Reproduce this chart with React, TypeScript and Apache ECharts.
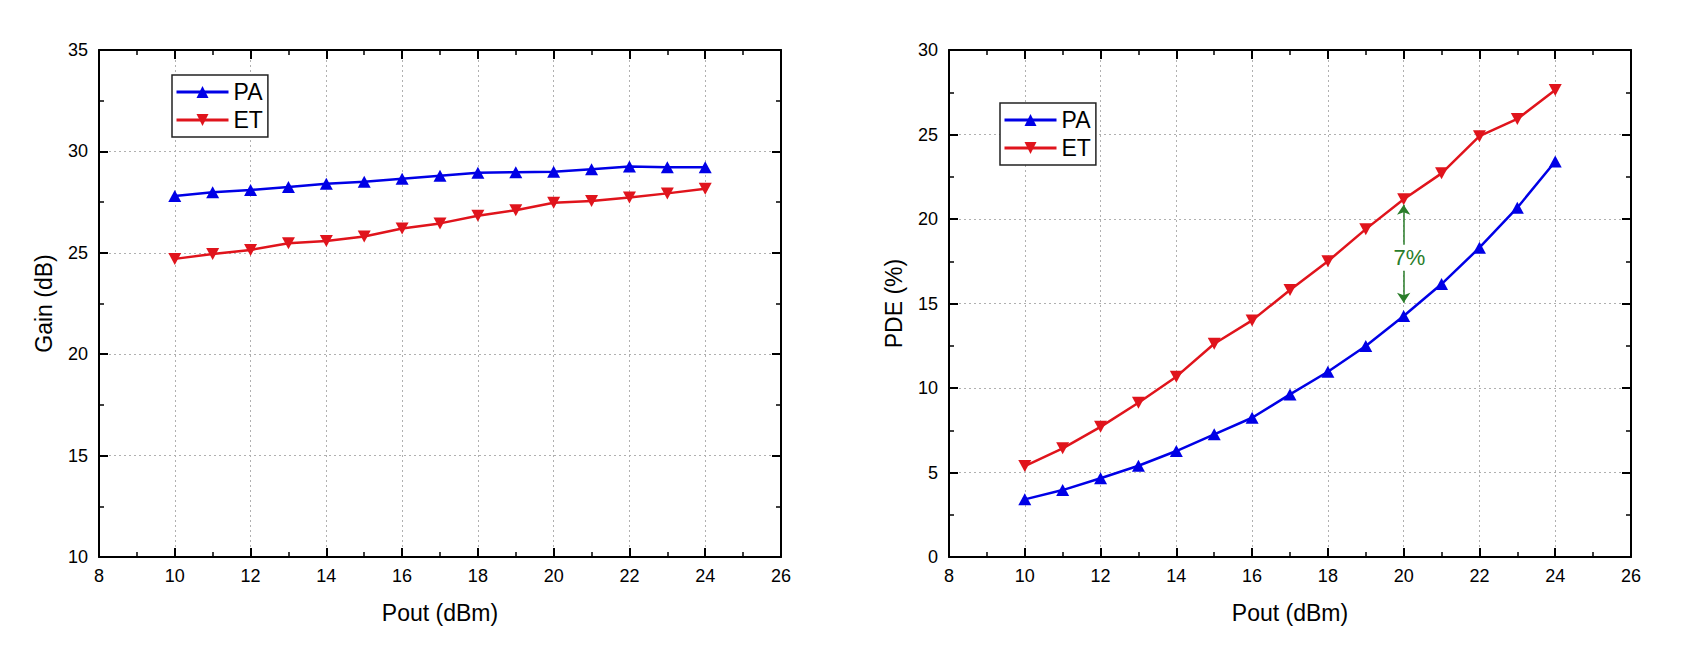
import React, { useEffect, useRef } from "react";
import * as echarts from "echarts";

const POUT = [10, 11, 12, 13, 14, 15, 16, 17, 18, 19, 20, 21, 22, 23, 24];
const GAIN_PA = [27.8, 27.98, 28.1, 28.25, 28.4, 28.5, 28.65, 28.8, 28.95, 28.97, 29.0, 29.12, 29.25, 29.22, 29.22];
const GAIN_ET = [24.7, 24.94, 25.14, 25.47, 25.58, 25.8, 26.2, 26.45, 26.83, 27.1, 27.47, 27.55, 27.73, 27.93, 28.16];
const PDE_PA = [3.41, 3.96, 4.66, 5.4, 6.27, 7.26, 8.24, 9.62, 10.96, 12.49, 14.26, 16.15, 18.3, 20.67, 23.4];
const PDE_ET = [5.38, 6.43, 7.7, 9.13, 10.67, 12.62, 14.0, 15.8, 17.5, 19.4, 21.17, 22.7, 24.9, 25.92, 27.63];

const SERIES_NAMES = ["PA", "ET"];
const X_NAME = "Pout (dBm)";
const GAIN_NAME = "Gain (dB)";
const PDE_NAME = "PDE (%)";

// annotation: arrow between ET and PA at Pout = 20 dBm
const ANNOT_X = 20;
const ANNOT_TOP = 20.85;
const ANNOT_BOTTOM = 15.05;
const ANNOT_TEXT_X = 20.15;
const ANNOT_TEXT_Y = 17.7;
const ANNOT_LABEL = "7%";

const BLUE = "#0000e6";
const RED = "#e0141c";
const GREEN = "#2a7d2a";
const FONT = "'Liberation Sans', Arial, sans-serif";

const zip = (xs: number[], ys: number[]) => xs.map((x, i) => [x, ys[i]]);

function xAxes(gridIndex: number) {
  const common = {
    gridIndex,
    type: "value",
    min: 8,
    max: 26,
    interval: 2,
    axisLine: { show: true, onZero: false, lineStyle: { color: "#000", width: 2 } },
    axisTick: { show: true, inside: true, length: 9, lineStyle: { color: "#000", width: 2 } },
    minorTick: { show: true, splitNumber: 2, length: 5, lineStyle: { color: "#000", width: 1.5 } },
  };
  return [
    {
      ...common,
      position: "bottom",
      name: X_NAME,
      nameLocation: "middle",
      nameGap: 44,
      nameTextStyle: { fontSize: 23, color: "#000", fontFamily: FONT },
      axisLabel: { show: true, margin: 10, fontSize: 18, color: "#000", fontFamily: FONT },
      splitLine: { show: true, lineStyle: { type: [2, 3], color: "#b0b0b0", width: 1 } },
    },
    {
      ...common,
      position: "top",
      axisLabel: { show: false },
      splitLine: { show: false },
    },
  ];
}

function yAxes(gridIndex: number, min: number, max: number, name: string) {
  const common = {
    gridIndex,
    type: "value",
    min,
    max,
    interval: 5,
    axisLine: { show: true, onZero: false, lineStyle: { color: "#000", width: 2 } },
    axisTick: { show: true, inside: true, length: 9, lineStyle: { color: "#000", width: 2 } },
    minorTick: { show: true, splitNumber: 2, length: 5, lineStyle: { color: "#000", width: 1.5 } },
  };
  return [
    {
      ...common,
      position: "left",
      name,
      nameLocation: "middle",
      nameGap: 44,
      nameTextStyle: { fontSize: 23, color: "#000", fontFamily: FONT },
      axisLabel: { show: true, margin: 11, fontSize: 18, color: "#000", fontFamily: FONT },
      splitLine: { show: true, lineStyle: { type: [2, 3], color: "#b0b0b0", width: 1 } },
    },
    {
      ...common,
      position: "right",
      axisLabel: { show: false },
      splitLine: { show: false },
    },
  ];
}

function lineSeries(name: string, data: number[][], axisIndex: number, color: string, down: boolean) {
  return {
    type: "line",
    name,
    data,
    xAxisIndex: axisIndex,
    yAxisIndex: axisIndex,
    symbol: "triangle",
    symbolSize: [13, 12],
    symbolRotate: down ? 180 : 0,
    showAllSymbol: true,
    lineStyle: { color, width: 2.5 },
    itemStyle: { color },
    z: 3,
  };
}

function legend(left: number, top: number) {
  return {
    data: SERIES_NAMES,
    orient: "vertical",
    left,
    top,
    itemWidth: 52,
    itemHeight: 15,
    itemGap: 4,
    padding: [5, 5, 5, 3],
    borderColor: "#222",
    borderWidth: 1.5,
    backgroundColor: "#fff",
    selectedMode: false,
    lineStyle: { width: 3 },
    textStyle: { fontSize: 23, lineHeight: 24, color: "#000", fontFamily: FONT, padding: [0, 0, 0, 0] },
  };
}

export default function App() {
  const ref = useRef<HTMLDivElement>(null);

  useEffect(() => {
    document.body.style.margin = "0";
    if (!ref.current) return;
    const chart = echarts.init(ref.current, undefined, { renderer: "svg" });
    const gX = xAxes(0);
    const gY = yAxes(0, 10, 35, GAIN_NAME);
    const pX = xAxes(1);
    const pY = yAxes(1, 0, 30, PDE_NAME);

    const etPde: any = lineSeries("ET", zip(POUT, PDE_ET), 2, RED, true);
    etPde.markLine = {
      silent: true,
      symbol: ["arrow", "arrow"],
      symbolSize: 10,
      label: { show: false },
      lineStyle: { color: GREEN, width: 1.5, type: "solid" },
      data: [[{ coord: [ANNOT_X, ANNOT_TOP] }, { coord: [ANNOT_X, ANNOT_BOTTOM] }]],
      z: 4,
    };
    etPde.markPoint = {
      silent: true,
      symbol: "rect",
      symbolSize: [36, 26],
      itemStyle: { color: "#fff" },
      label: {
        show: true,
        position: "inside",
        formatter: ANNOT_LABEL,
        color: GREEN,
        fontSize: 22,
        fontFamily: FONT,
      },
      data: [{ coord: [ANNOT_TEXT_X, ANNOT_TEXT_Y] }],
      z: 6,
    };

    chart.setOption({
      animation: false,
      backgroundColor: "#fff",
      textStyle: { fontFamily: FONT },
      grid: [
        { left: 99, top: 50, width: 682, height: 507 },
        { left: 949, top: 50, width: 682, height: 507 },
      ],
      xAxis: [...gX, ...pX],
      yAxis: [...gY, ...pY],
      legend: [legend(172, 75), legend(1000, 103)],
      series: [
        lineSeries("PA", zip(POUT, GAIN_PA), 0, BLUE, false),
        lineSeries("ET", zip(POUT, GAIN_ET), 0, RED, true),
        lineSeries("PA", zip(POUT, PDE_PA), 2, BLUE, false),
        etPde,
      ],
    });
    return () => chart.dispose();
  }, []);

  return <div ref={ref} style={{ width: 1696, height: 651 }} />;
}
